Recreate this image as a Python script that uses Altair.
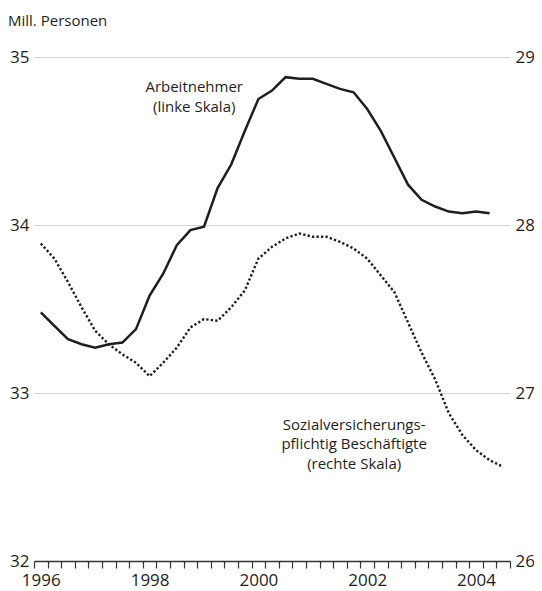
import altair as alt
import pandas as pd

# quarterly observations, 1996 Q1 onward (t = 1996 + 0.25*i)
start_year = 1996
arbeitnehmer = [33.48, 33.40, 33.32, 33.29, 33.27, 33.29, 33.30, 33.38, 33.58, 33.71,
                33.88, 33.97, 33.99, 34.22, 34.36, 34.56, 34.75, 34.80, 34.88, 34.87,
                34.87, 34.84, 34.81, 34.79, 34.69, 34.56, 34.40, 34.24, 34.15, 34.11,
                34.08, 34.07, 34.08, 34.07]
sozialvers = [27.89, 27.80, 27.66, 27.51, 27.37, 27.29, 27.23, 27.18, 27.10, 27.18,
              27.27, 27.39, 27.44, 27.43, 27.51, 27.61, 27.80, 27.87, 27.92, 27.95,
              27.93, 27.93, 27.90, 27.86, 27.80, 27.70, 27.60, 27.42, 27.24, 27.08,
              26.88, 26.75, 26.66, 26.60, 26.56]

left_ticks = [32, 33, 34, 35]
right_ticks = [26, 27, 28, 29]
unit_label = "Mill. Personen"
label_left = ["Arbeitnehmer", "(linke Skala)"]
label_right = ["Sozialversicherungs-", "pflichtig Beschäftigte", "(rechte Skala)"]

df_a = pd.DataFrame({"t": [start_year + 0.25 * i for i in range(len(arbeitnehmer))], "v": arbeitnehmer})
df_s = pd.DataFrame({"t": [start_year + 0.25 * i for i in range(len(sozialvers))], "v": sozialvers})

# quarter boundaries as tick positions
x_lo, x_hi = 1995.875, 2004.625
quarter_ticks = [x_lo + 0.25 * k for k in range(36)]

FONT = "Open Sans"
INK = "#1e1e1e"
W, H = 476, 504
PX_PER_YEAR = W / (x_hi - x_lo)

x_axis = alt.Axis(
    values=quarter_ticks,
    labelExpr="(datum.value + 0.125) % 2 == 0 ? format(datum.value + 0.125, 'd') : ''",
    labelOffset=0.125 * PX_PER_YEAR,
    labelFlush=False,
    labelOverlap=False,
    labelBaseline="alphabetic",
    grid=False,
    domainColor="#333333",
    domainWidth=1.4,
    tickColor="#333333",
    tickWidth=1.2,
    tickSize=7,
    labelPadding=17,
    labelFontSize=17,
    labelColor=INK,
    labelFont=FONT,
    title=None,
    zindex=1,
)
x_enc = alt.X("t:Q", scale=alt.Scale(domain=[x_lo, x_hi], nice=False, zero=False), axis=x_axis)

y_left = alt.Y(
    "v:Q",
    scale=alt.Scale(domain=[32, 35], nice=False, zero=False),
    axis=alt.Axis(values=left_ticks, orient="left", grid=True, gridColor="#d2d2d2", gridWidth=1.2,
                  domain=False, ticks=False, labelPadding=5, labelFontSize=17, labelColor=INK,
                  labelFont=FONT, title=None, format="d"),
)
y_right = alt.Y(
    "v:Q",
    scale=alt.Scale(domain=[26, 29], nice=False, zero=False),
    axis=alt.Axis(values=right_ticks, orient="right", grid=False, domain=False, ticks=False,
                  labelPadding=5, labelFontSize=17, labelColor=INK, labelFont=FONT,
                  title=None, format="d"),
)

line_a = alt.Chart(df_a).mark_line(color=INK, strokeWidth=2.5, strokeJoin="miter").encode(x=x_enc, y=y_left)

ann_a = pd.DataFrame({"t": [1998.82, 1998.82], "v": [34.82, 34.70], "txt": label_left})
text_a = alt.Chart(ann_a).mark_text(font=FONT, fontSize=15, color=INK, align="center", baseline="middle").encode(
    x=x_enc, y=y_left, text="txt:N")

left = alt.layer(line_a, text_a)

line_s = alt.Chart(df_s).mark_line(color=INK, strokeWidth=2.4, strokeDash=[2.3, 2.2], strokeCap="butt").encode(
    x=x_enc, y=y_right)
ann_s = pd.DataFrame({"t": [2001.76] * 3, "v": [26.81, 26.695, 26.58], "txt": label_right})
text_s = alt.Chart(ann_s).mark_text(font=FONT, fontSize=15, color=INK, align="center", baseline="middle").encode(
    x=x_enc, y=y_right, text="txt:N")

right = alt.layer(line_s, text_s)

title_df = pd.DataFrame({"txt": [unit_label]})
title_mark = alt.Chart(title_df).mark_text(font=FONT, fontSize=15, color=INK, align="left", baseline="middle").encode(
    x=alt.value(-26), y=alt.value(-36), text="txt:N")

chart = alt.layer(left, right, title_mark).resolve_scale(y="independent").properties(
    width=W,
    height=H,
    autosize=alt.AutoSizeParams(type="none"),
    padding={"left": 26, "top": 49, "right": 24, "bottom": 30},
).configure_view(stroke=None)

chart.save("out.html", embed_options={"renderer": "svg", "actions": False})
